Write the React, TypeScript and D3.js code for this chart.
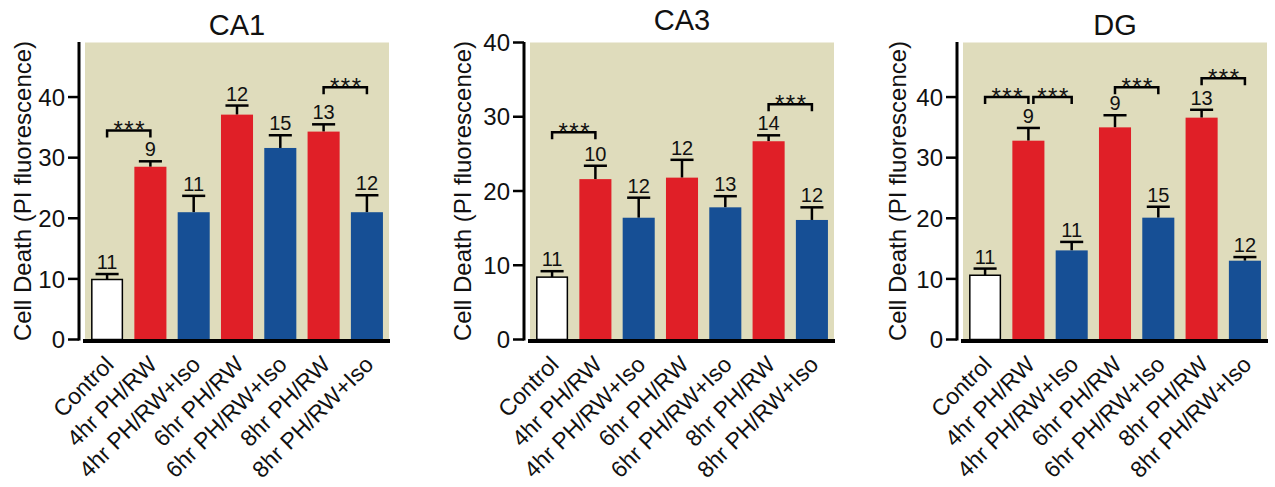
import React from "react";
import * as d3 from "d3";

const categories = ["Control", "4hr PH/RW", "4hr PH/RW+Iso", "6hr PH/RW", "6hr PH/RW+Iso", "8hr PH/RW", "8hr PH/RW+Iso"];
const groupTypes = ["control", "ph", "iso", "ph", "iso", "ph", "iso"];

const ca1Means = [9.9, 28.5, 21.0, 37.1, 31.6, 34.3, 21.0];
const ca1Sem = [0.9, 0.9, 2.7, 1.5, 2.1, 1.2, 2.8];
const ca1N = [11, 9, 11, 12, 15, 13, 12];
const ca1Sig = [
  { from: 0, to: 1, level: 34.5, off: 0 },
  { from: 5, to: 6, level: 41.6, off: 0 },
];

const ca3Means = [8.4, 21.6, 16.4, 21.8, 17.8, 26.7, 16.1];
const ca3Sem = [0.8, 1.8, 2.7, 2.4, 1.5, 0.8, 1.7];
const ca3N = [11, 10, 12, 12, 13, 14, 12];
const ca3Sig = [
  { from: 0, to: 1, level: 27.9, off: 0 },
  { from: 5, to: 6, level: 31.7, off: 0 },
];

const dgMeans = [10.6, 32.8, 14.7, 35.0, 20.1, 36.6, 13.0];
const dgSem = [1.1, 2.1, 1.4, 2.0, 1.8, 1.3, 0.6];
const dgN = [11, 9, 11, 9, 15, 13, 12];
const dgSig = [
  { from: 0, to: 1, level: 40.0, off: 0 },
  { from: 1, to: 2, level: 40.0, off: 5 },
  { from: 3, to: 4, level: 41.6, off: 0 },
  { from: 5, to: 6, level: 43.1, off: 0 },
];

const yTicks = [0, 10, 20, 30, 40];
const yLabel = "Cell Death (PI fluorescence)";

const COLORS: Record<string, string> = { control: "#ffffff", ph: "#e01f27", iso: "#164f95" };
const BG = "#dfdcbc";
const FONT = "'Liberation Sans', Arial, Helvetica, sans-serif";

type Sig = { from: number; to: number; level: number; off: number };
type PanelProps = {
  title: string;
  means: number[];
  sems: number[];
  ns: number[];
  sig: Sig[];
  yMax: number;
  axisX: number;
  titleY: number;
  labelX: number;
};

function Panel({ title, means, sems, ns, sig, yMax, axisX, titleY, labelX }: PanelProps) {
  const top = 42.5;
  const zeroY = 339.5;
  const bgLeft = axisX + 6;
  const bgRight = axisX + 310;
  const axisY = 341;
  const x = d3.scaleBand<string>().domain(categories).range([bgLeft, bgRight]).paddingInner(0.26).paddingOuter(0.14);
  const y = d3.scaleLinear().domain([0, yMax]).range([zeroY, top]);
  const bw = x.bandwidth();
  const cx = (i: number) => (x(categories[i]) as number) + bw / 2;
  const capW = bw * 0.72;
  return (
    <g>
      <text x={(bgLeft + bgRight) / 2} y={titleY} textAnchor="middle" fontSize={29} fontFamily={FONT} fill="#111">
        {title}
      </text>
      <rect x={bgLeft} y={top} width={bgRight - bgLeft} height={axisY - top} fill={BG} />
      {/* y axis */}
      <line x1={axisX} x2={axisX} y1={top - 0.5} y2={zeroY + 1} stroke="#000" strokeWidth={3} />
      {yTicks.map((t) => (
        <g key={t}>
          <line x1={axisX - 11} x2={axisX} y1={y(t)} y2={y(t)} stroke="#000" strokeWidth={2.5} />
          <text x={axisX - 14} y={y(t)} dy="0.36em" textAnchor="end" fontSize={24} fontFamily={FONT} fill="#111">
            {t}
          </text>
        </g>
      ))}
      <text
        transform={`translate(${labelX},${(top + zeroY) / 2}) rotate(-90)`}
        textAnchor="middle"
        dy="0.36em"
        fontSize={24}
        fontFamily={FONT}
        fill="#111"
      >
        {yLabel}
      </text>
      {/* bars */}
      {means.map((m, i) => {
        const g = groupTypes[i];
        const x0 = x(categories[i]) as number;
        const errTop = y(m + sems[i]);
        return (
          <g key={i}>
            <line x1={cx(i)} x2={cx(i)} y1={y(m)} y2={errTop} stroke="#000" strokeWidth={2.5} />
            <line x1={cx(i) - capW / 2} x2={cx(i) + capW / 2} y1={errTop} y2={errTop} stroke="#000" strokeWidth={2.5} />
            <rect
              x={g === "control" ? x0 + 0.75 : x0}
              y={y(m)}
              width={g === "control" ? bw - 1.5 : bw}
              height={zeroY - y(m)}
              fill={COLORS[g]}
              stroke={g === "control" ? "#000" : "none"}
              strokeWidth={1.5}
            />
            <text x={cx(i)} y={errTop - 5} textAnchor="middle" fontSize={20} fontFamily={FONT} fill="#111">
              {ns[i]}
            </text>
          </g>
        );
      })}
      {/* x axis */}
      <line x1={axisX + 4} x2={bgRight + 1} y1={axisY} y2={axisY} stroke="#000" strokeWidth={4} />
      {categories.map((c, i) => (
        <text
          key={c}
          transform={`translate(${cx(i) + 8},${366}) rotate(-45)`}
          textAnchor="end"
          fontSize={23}
          fontFamily={FONT}
          fill="#111"
        >
          {c}
        </text>
      ))}
      {/* significance brackets */}
      {sig.map((s, k) => {
        const x1 = cx(s.from) + s.off;
        const x2 = cx(s.to);
        const yy = y(s.level);
        return (
          <g key={k}>
            <path d={`M${x1},${yy + 7}V${yy}H${x2}V${yy + 7}`} fill="none" stroke="#000" strokeWidth={2.5} />
            <text x={(x1 + x2) / 2 + 1} y={yy + 8} textAnchor="middle" fontSize={24} letterSpacing={1.5} fontFamily={FONT} fill="#111">
              ***
            </text>
          </g>
        );
      })}
    </g>
  );
}

export default function App() {
  return (
    <svg width={1275} height={487} style={{ position: "absolute", left: 0, top: 0, background: "#fff" }}>
      <Panel title="CA1" means={ca1Means} sems={ca1Sem} ns={ca1N} sig={ca1Sig} yMax={49} axisX={79} titleY={35} labelX={22} />
      <Panel title="CA3" means={ca3Means} sems={ca3Sem} ns={ca3N} sig={ca3Sig} yMax={40} axisX={524} titleY={30} labelX={462} />
      <Panel title="DG" means={dgMeans} sems={dgSem} ns={dgN} sig={dgSig} yMax={49} axisX={957} titleY={35} labelX={897} />
    </svg>
  );
}
